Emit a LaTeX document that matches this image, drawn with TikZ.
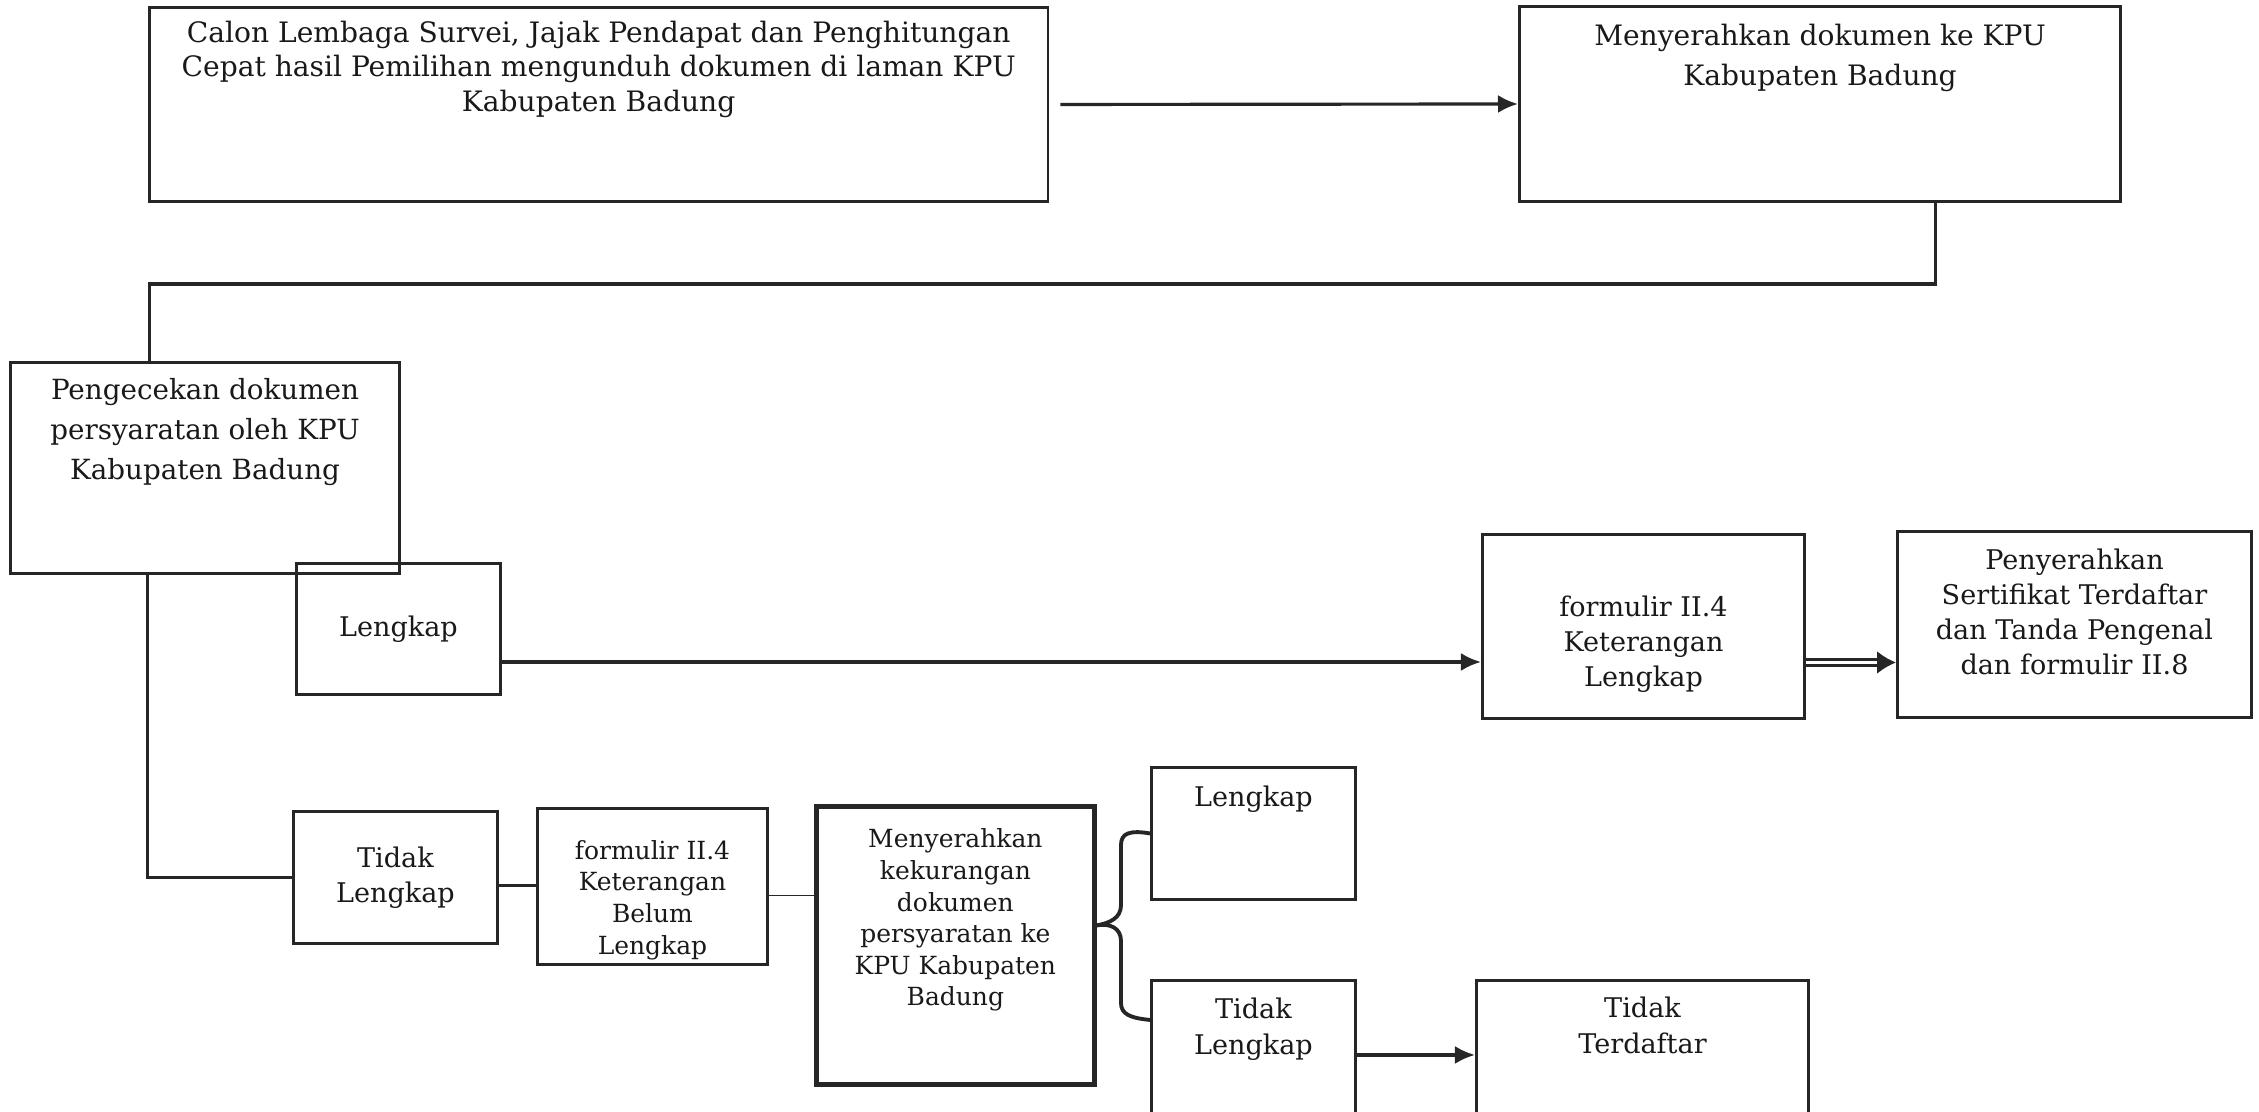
\documentclass[tikz,border=0pt]{standalone}
\usepackage{fontspec}
\setmainfont{DejaVu Serif}
\usetikzlibrary{positioning,arrows.meta}

\begin{document}
\begin{tikzpicture}
  [x=0.01cm, y=-0.01cm,
  every node/.style={inner sep=0pt},
  box/.style={draw=black!85, line width=0.8pt, anchor=north west},
  lbl/.style={align=center, text=black!90, font=\fontsize{7.7}{10}\selectfont},
  small/.style={font=\fontsize{7.1}{9}\selectfont},
  line/.style={draw=black!85, line width=0.9pt},
  arr/.style={line, -{Latex[length=2mm,width=1.8mm]}},
  brace/.style={draw=black!85, line width=1.1pt}]
  \useasboundingbox (0,0) rectangle (2259,1111);

  % baris atas
  \node[box, minimum width=8.98cm, minimum height=1.94cm,
    label={[lbl, anchor=north, yshift=-1.4mm, font=\fontsize{8}{9.8}\selectfont]north:{%
      Calon Lembaga Survei, Jajak Pendapat dan Penghitungan\\
      Cepat hasil Pemilihan mengunduh dokumen di laman KPU\\
      Kabupaten Badung}}] (calon) at (148,6) {};
  \node[box, minimum width=6.01cm, minimum height=1.95cm,
    label={[lbl, anchor=north, yshift=-1.8mm, font=\fontsize{8}{11.4}\selectfont]north:{%
      Menyerahkan dokumen ke KPU\\Kabupaten Badung}}] (serah) at (1518,5) {};

  % pengecekan
  \node[box, minimum width=3.89cm, minimum height=2.11cm,
    label={[lbl, anchor=north, yshift=-1.7mm, font=\fontsize{7.9}{11.3}\selectfont]north:{%
      Pengecekan dokumen\\persyaratan oleh KPU\\Kabupaten Badung}}] (cek) at (9,361) {};
  \node[box, minimum width=2.04cm, minimum height=1.31cm,
    label={[lbl, anchor=center]center:{Lengkap}}] (lkp1) at (295,562) {};
  \node[box, minimum width=3.22cm, minimum height=1.84cm,
    label={[lbl, anchor=center, yshift=-1.8mm]center:{%
      formulir II.4\\Keterangan\\Lengkap}}] (frmL) at (1481,533) {};
  \node[box, minimum width=3.54cm, minimum height=1.86cm,
    label={[lbl, anchor=north, yshift=-1.8mm]north:{%
      Penyerahkan\\Sertifikat Terdaftar\\dan Tanda Pengenal\\dan formulir II.8}}] (terima) at (1896,530) {};

  % tidak lengkap
  \node[box, minimum width=2.04cm, minimum height=1.32cm,
    label={[lbl, anchor=center]center:{Tidak\\Lengkap}}] (tl1) at (292,810) {};
  \node[box, minimum width=2.30cm, minimum height=1.56cm,
    label={[lbl, small, anchor=center, yshift=-1.35mm]center:{%
      formulir II.4\\Keterangan\\Belum\\Lengkap}}] (blm) at (536,807) {};
  \node[box, line width=1.3pt, minimum width=2.78cm, minimum height=2.78cm,
    label={[lbl, small, anchor=north, yshift=-2.4mm]north:{%
      Menyerahkan\\kekurangan\\dokumen\\persyaratan ke\\KPU Kabupaten\\Badung}}] (kurang) at (814,804) {};
  \node[box, minimum width=2.04cm, minimum height=1.32cm,
    label={[lbl, anchor=north, yshift=-1.9mm]north:{Lengkap}}] (lkp2) at (1150,766) {};
  \node[box, minimum width=2.04cm, minimum height=1.33cm,
    label={[lbl, anchor=north, yshift=-1.8mm, font=\fontsize{7.7}{10.2}\selectfont]north:{%
      Tidak\\Lengkap}}] (tl2) at (1150,979) {};
  \node[box, minimum width=3.32cm, minimum height=1.33cm,
    label={[lbl, anchor=north, yshift=-1.7mm, font=\fontsize{7.7}{10.2}\selectfont]north:{%
      Tidak\\Terdaftar}}] (tt) at (1475,979) {};

  % garis
  \draw[arr] ([xshift=1.1mm]calon.east) -- (serah.west);
  \draw[line] ([xshift=11.5mm]serah.south) -- ++(0,81) -| ([xshift=-5.55mm]cek.north);
  \draw[line] ([xshift=-5.75mm]cek.south) |- (tl1.west);
  \draw[arr] ([yshift=-3.3mm]lkp1.east) -- ([yshift=-3.3mm]lkp1.east -| frmL.west);
  \draw[line width=0.7pt, draw=black!85, double, double distance=0.35mm,
    -{Latex[length=1.9mm,width=2.3mm]}]
    ([yshift=-3.6mm]frmL.east) -- ([yshift=-3.6mm]frmL.east -| terima.west);
  \draw[line] ([yshift=-0.8mm]tl1.east) -- ([yshift=-0.8mm]tl1.east -| blm.west);
  \draw[line, line width=0.4pt] ([yshift=-0.9mm]blm.east) -- ([yshift=-0.9mm]blm.east -| kurang.west);
  \draw[brace] ([yshift=2mm]kurang.east) .. controls (1110,923) and (1121,918) .. (1121,905)
    -- (1121,845) .. controls (1121,833) and (1130,830) .. (lkp2.west);
  \draw[brace] ([yshift=2mm]kurang.east) .. controls (1110,923) and (1121,928) .. (1121,941)
    -- (1121,1003) .. controls (1121,1014) and (1130,1018) .. ([yshift=2.7mm]tl2.west);
  \draw[arr] ([yshift=-0.8mm]tl2.east) -- ([yshift=-0.8mm]tl2.east -| tt.west);
\end{tikzpicture}
\end{document}
